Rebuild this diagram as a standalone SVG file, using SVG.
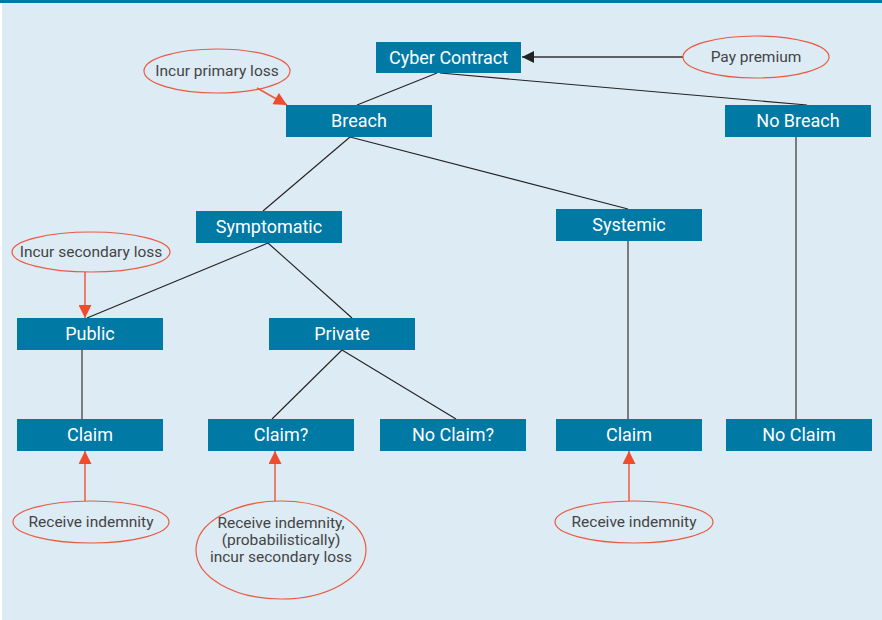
<svg xmlns="http://www.w3.org/2000/svg" width="882" height="620" viewBox="0 0 882 620">
<defs>
<marker id="ar" viewBox="0 0 12 12" refX="12" refY="6" markerWidth="14" markerHeight="13" markerUnits="userSpaceOnUse" orient="auto"><path d="M0,0 L12,6 L0,12 z" fill="#ef4b2e"/></marker>
<marker id="ab" viewBox="0 0 10 10" refX="10" refY="5" markerWidth="12" markerHeight="12" markerUnits="userSpaceOnUse" orient="auto"><path d="M0,0 L10,5 L0,10 z" fill="#222"/></marker>
<style>
.box{fill:#0079a5}
.bt{font-family:Roboto,"Liberation Sans",sans-serif;font-size:18px;fill:#fff;text-anchor:middle}
.el{fill:none;stroke:#ea5a42;stroke-width:1.2}
.et{font-family:Roboto,"Liberation Sans",sans-serif;font-size:15.5px;fill:#444;text-anchor:middle}
.tl{stroke:#222;stroke-width:1.1;fill:none}
.ra{stroke:#ef5a40;stroke-width:1.5;fill:none;marker-end:url(#ar)}
</style>
</defs>
<rect x="0" y="0" width="882" height="620" fill="#ffffff"/>
<rect x="2" y="0" width="880" height="620" fill="#ddebf4"/>
<rect x="0" y="0" width="882" height="3" fill="#0079a5"/>
<g id="connectors">
<line class="tl" x1="437" y1="73" x2="357" y2="105"/>
<line class="tl" x1="440" y1="73" x2="807" y2="105"/>
<line class="tl" x1="350" y1="137" x2="263" y2="211"/>
<line class="tl" x1="350" y1="137" x2="628" y2="209"/>
<line class="tl" x1="268" y1="243" x2="87" y2="318"/>
<line class="tl" x1="268" y1="243" x2="352" y2="318"/>
<line class="tl" x1="342" y1="350" x2="272" y2="419"/>
<line class="tl" x1="342" y1="350" x2="456" y2="419"/>
<line class="tl" x1="82" y1="350" x2="82" y2="419"/>
<line class="tl" x1="628" y1="241" x2="628" y2="419"/>
<line class="tl" x1="796" y1="137" x2="796" y2="419"/>
<line x1="683" y1="57" x2="522" y2="57" stroke="#333" stroke-width="1.5" marker-end="url(#ab)"/>
<line class="ra" x1="257" y1="88" x2="287" y2="105"/>
<line class="ra" x1="85" y1="272" x2="85" y2="318"/>
<line class="ra" x1="85" y1="501" x2="85" y2="451"/>
<line class="ra" x1="275" y1="501" x2="275" y2="451"/>
<line class="ra" x1="629" y1="501" x2="629" y2="451"/>
</g>
<g id="cyber"><rect class="box" x="376" y="42" width="145" height="31"/><text class="bt" x="448.5" y="64">Cyber Contract</text></g>
<g id="breach"><rect class="box" x="286" y="105" width="146" height="32"/><text class="bt" x="359" y="127">Breach</text></g>
<g id="nobreach"><rect class="box" x="725" y="105" width="146" height="32"/><text class="bt" x="798" y="127">No Breach</text></g>
<g id="symptomatic"><rect class="box" x="196" y="211" width="146" height="32"/><text class="bt" x="269" y="233">Symptomatic</text></g>
<g id="systemic"><rect class="box" x="556" y="209" width="146" height="32"/><text class="bt" x="629" y="231">Systemic</text></g>
<g id="public"><rect class="box" x="17" y="318" width="146" height="32"/><text class="bt" x="90" y="340">Public</text></g>
<g id="private"><rect class="box" x="269" y="318" width="146" height="32"/><text class="bt" x="342" y="340">Private</text></g>
<g id="claim1"><rect class="box" x="17" y="419" width="146" height="32"/><text class="bt" x="90" y="441">Claim</text></g>
<g id="claimq"><rect class="box" x="208" y="419" width="146" height="32"/><text class="bt" x="281" y="441">Claim?</text></g>
<g id="noclaimq"><rect class="box" x="380" y="419" width="146" height="32"/><text class="bt" x="453" y="441">No Claim?</text></g>
<g id="claim2"><rect class="box" x="556" y="419" width="146" height="32"/><text class="bt" x="629" y="441">Claim</text></g>
<g id="noclaim"><rect class="box" x="726" y="419" width="146" height="32"/><text class="bt" x="799" y="441">No Claim</text></g>
<g id="e-primary"><ellipse class="el" cx="217" cy="71" rx="73" ry="22"/><text class="et" x="217" y="76">Incur primary loss</text></g>
<g id="e-premium"><ellipse class="el" cx="756" cy="57" rx="73" ry="21"/><text class="et" x="756" y="62">Pay premium</text></g>
<g id="e-secondary"><ellipse class="el" cx="91" cy="252" rx="79" ry="20"/><text class="et" x="91" y="257">Incur secondary loss</text></g>
<g id="e-indem1"><ellipse class="el" cx="91" cy="522" rx="78" ry="21"/><text class="et" x="91" y="527">Receive indemnity</text></g>
<g id="e-indem2"><ellipse class="el" cx="281" cy="550" rx="85" ry="49"/><text class="et" x="281" y="528">Receive indemnity,</text><text class="et" x="281" y="545">(probabilistically)</text><text class="et" x="281" y="562">incur secondary loss</text></g>
<g id="e-indem3"><ellipse class="el" cx="634" cy="522" rx="79" ry="21"/><text class="et" x="634" y="527">Receive indemnity</text></g>
</svg>
